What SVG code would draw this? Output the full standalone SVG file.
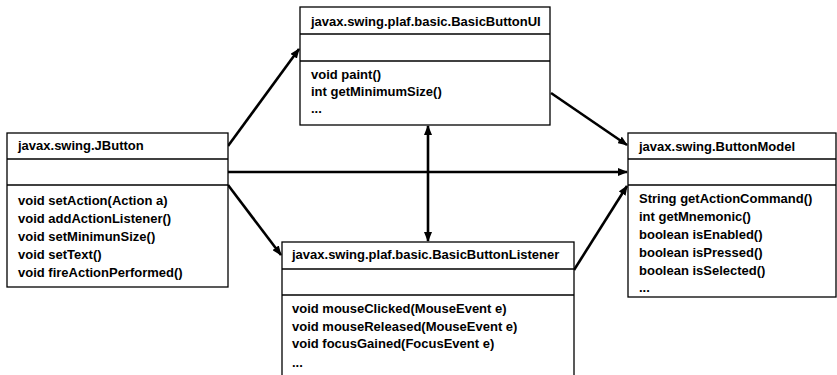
<svg xmlns="http://www.w3.org/2000/svg" width="837" height="375" viewBox="0 0 837 375">
  <style>
    .box { fill: #ffffff; stroke: #000000; stroke-width: 1.3; }
    .div { stroke: #000000; stroke-width: 1.3; }
    .txt { font-family: "Liberation Sans", Arial, sans-serif; font-size: 13px; font-weight: bold; fill: #000000; }
    .edge { fill: none; stroke: #000000; stroke-width: 2.6; marker-end: url(#arrow); }
  </style>
  <defs>
    <marker id="arrow" viewBox="0 0 10 8" refX="9" refY="4" markerWidth="10" markerHeight="8" markerUnits="userSpaceOnUse" orient="auto-start-reverse">
      <path d="M0,0 L10,4 L0,8 z" fill="#000000"/>
    </marker>
  </defs>
  <rect width="837" height="375" fill="#ffffff"/>

  <!-- associations between the classes -->
  <g id="connectors">
    <path class="edge" d="M228,146 L299,49"/>
    <path class="edge" d="M228,172 L627,172"/>
    <path class="edge" d="M228,185 L281,255"/>
    <path class="edge" d="M428,126 L428,241" marker-start="url(#arrow)"/>
    <path class="edge" d="M551,93 L627,145"/>
    <path class="edge" d="M574,270 L627,186"/>
  </g>

  <g id="BasicButtonUI">
    <rect class="box" x="300" y="7" width="250" height="118"/>
    <line class="div" x1="300" y1="34" x2="550" y2="34"/>
    <line class="div" x1="300" y1="61" x2="550" y2="61"/>
    <text class="txt" x="311" y="26">javax.swing.plaf.basic.BasicButtonUI</text>
    <text class="txt" x="311" y="79">void paint()</text>
    <text class="txt" x="311" y="96">int getMinimumSize()</text>
    <text class="txt" x="311" y="113">...</text>
  </g>

  <g id="JButton">
    <rect class="box" x="7" y="133" width="221" height="154"/>
    <line class="div" x1="7" y1="159" x2="228" y2="159"/>
    <line class="div" x1="7" y1="185" x2="228" y2="185"/>
    <text class="txt" x="18" y="150">javax.swing.JButton</text>
    <text class="txt" x="18" y="205">void setAction(Action a)</text>
    <text class="txt" x="18" y="223">void addActionListener()</text>
    <text class="txt" x="18" y="241">void setMinimunSize()</text>
    <text class="txt" x="18" y="259">void setText()</text>
    <text class="txt" x="18" y="277">void fireActionPerformed()</text>
  </g>

  <g id="BasicButtonListener">
    <rect class="box" x="282" y="242" width="292" height="145"/>
    <line class="div" x1="282" y1="269" x2="574" y2="269"/>
    <line class="div" x1="282" y1="295" x2="574" y2="295"/>
    <text class="txt" x="292" y="259">javax.swing.plaf.basic.BasicButtonListener</text>
    <text class="txt" x="292" y="313">void mouseClicked(MouseEvent e)</text>
    <text class="txt" x="292" y="331">void mouseReleased(MouseEvent e)</text>
    <text class="txt" x="292" y="348">void focusGained(FocusEvent e)</text>
    <text class="txt" x="292" y="367">...</text>
  </g>

  <g id="ButtonModel">
    <rect class="box" x="628" y="133" width="208" height="164"/>
    <line class="div" x1="628" y1="159" x2="836" y2="159"/>
    <line class="div" x1="628" y1="185" x2="836" y2="185"/>
    <text class="txt" x="639" y="151">javax.swing.ButtonModel</text>
    <text class="txt" x="639" y="203">String getActionCommand()</text>
    <text class="txt" x="639" y="221">int getMnemonic()</text>
    <text class="txt" x="639" y="239">boolean isEnabled()</text>
    <text class="txt" x="639" y="257">boolean isPressed()</text>
    <text class="txt" x="639" y="275">boolean isSelected()</text>
    <text class="txt" x="639" y="292">...</text>
  </g>
</svg>
